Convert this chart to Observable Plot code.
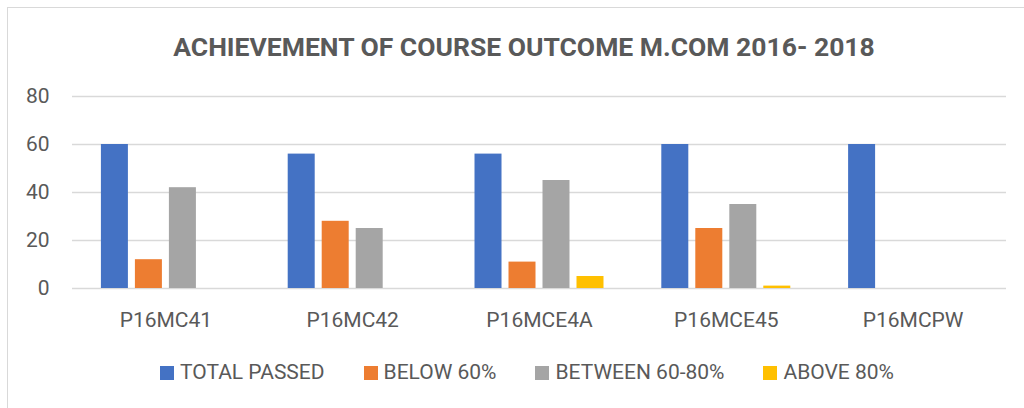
<!DOCTYPE html>
<html>
<head>
<meta charset="utf-8">
<script src="https://cdn.jsdelivr.net/npm/d3@7"></script>
<script src="https://cdn.jsdelivr.net/npm/@observablehq/plot@0.6"></script>
<style>
  html, body { margin: 0; padding: 0; background: #fff; width: 1024px; height: 408px; overflow: hidden; }
  #frame { position: absolute; left: 7px; top: 7px; width: 1100px; height: 500px; border: 1px solid #d9d9d9; box-sizing: border-box; }
  #title { position: absolute; left: 0; width: 1048px; top: 34px; text-align: center; font: bold 26.5px Roboto, sans-serif; line-height: 25px; color: #595959; white-space: nowrap; }
  #chart { position: absolute; left: 0; top: 80px; width: 1024px; height: 270px; }
  #chart svg { position: absolute; left: 0; top: 0; }
  #legend { position: absolute; left: 0; width: 1054px; top: 362px; display: flex; justify-content: center; gap: 39px; font: 21px Roboto, sans-serif; line-height: 21px; color: #595959; }
  .item { display: flex; align-items: flex-start; white-space: nowrap; }
  .sw { width: 14px; height: 14px; margin-top: 4px; margin-right: 6px; }
</style>
</head>
<body>
<div id="frame"></div>
<div id="title"></div>
<div id="chart"></div>
<div id="legend"></div>
<script>
const titleText = "ACHIEVEMENT OF COURSE OUTCOME M.COM 2016- 2018";
const courses = ["P16MC41", "P16MC42", "P16MCE4A", "P16MCE45", "P16MCPW"];
const seriesNames = ["TOTAL PASSED", "BELOW 60%", "BETWEEN 60-80%", "ABOVE 80%"];
const totalPassed = [60, 56, 56, 60, 60];
const below60 = [12, 28, 11, 25, 0];
const between6080 = [42, 25, 45, 35, 0];
const above80 = [0, 0, 5, 1, 0];
const yTicks = [0, 20, 40, 60, 80];
const colors = ["#4472C4", "#ED7D31", "#A5A5A5", "#FFC000"];

const seriesValues = [totalPassed, below60, between6080, above80];
const data = [];
courses.forEach((c, i) => {
  seriesNames.forEach((s, j) => {
    data.push({course: c, series: s, value: seriesValues[j][i]});
  });
});

document.getElementById("title").textContent = titleText;

const common = {
  width: 1024,
  height: 270,
  marginLeft: 72,
  marginRight: 18,
  marginTop: 16,
  marginBottom: 62,
  style: {fontFamily: "Roboto, sans-serif", fontSize: "21px", color: "#595959", background: "transparent"}
};

// Layer 1: y axis and full-width gridlines
const grid = Plot.plot({
  ...common,
  y: {domain: [0, 80], ticks: yTicks, tickSize: 0, tickPadding: 23, label: null},
  marks: [
    Plot.ruleY(yTicks, {stroke: "#d9d9d9", strokeWidth: 1.5})
  ]
});

// Layer 2: clustered bars and category axis
const bars = Plot.plot({
  ...common,
  fx: {domain: courses, paddingInner: 0.272, paddingOuter: 0.136, round: false, axis: "bottom", tickSize: 0, tickPadding: 24, label: null},
  x: {domain: seriesNames, padding: 0, round: false, axis: null},
  y: {domain: [0, 80], axis: null},
  color: {domain: seriesNames, range: colors},
  marks: [
    Plot.barY(data, {fx: "course", x: "series", y: "value", fill: "series", insetLeft: 3.5, insetRight: 3.5})
  ]
});

const holder = document.getElementById("chart");
holder.appendChild(grid);
holder.appendChild(bars);

const legend = document.getElementById("legend");
seriesNames.forEach((s, j) => {
  const item = document.createElement("div");
  item.className = "item";
  const sw = document.createElement("div");
  sw.className = "sw";
  sw.style.background = colors[j];
  const t = document.createElement("span");
  t.textContent = s;
  item.appendChild(sw);
  item.appendChild(t);
  legend.appendChild(item);
});
</script>
</body>
</html>
